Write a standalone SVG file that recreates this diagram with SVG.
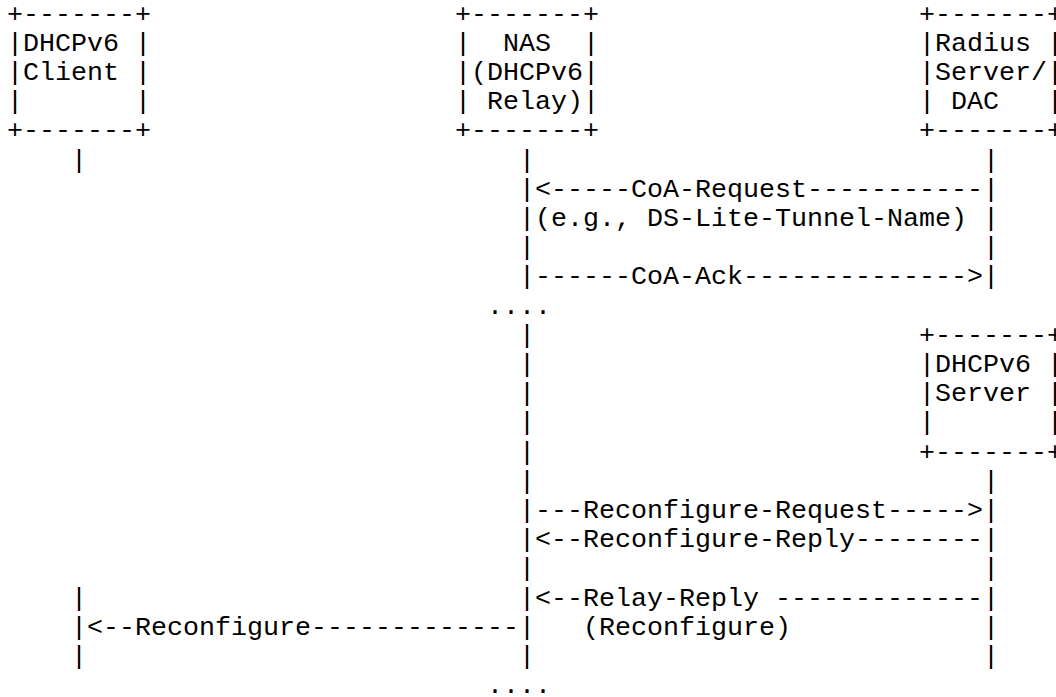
<svg xmlns="http://www.w3.org/2000/svg" width="1056" height="697" viewBox="0 0 1056 697" xml:space="preserve">
<style>
text { font-family: "Liberation Mono", "DejaVu Sans Mono", monospace; font-size: 26.67px; fill: #000; white-space: pre; }
</style>
<rect width="1056" height="697" fill="#fff"/>
<g id="node-dhcpv6-client">
<text x="7" y="21.5">+-------+</text>
<text x="7" y="50.7">|DHCPv6 |</text>
<text x="7" y="79.9">|Client |</text>
<text x="7" y="109.1">|       |</text>
<text x="7" y="138.3">+-------+</text>
</g>
<g id="node-nas">
<text x="455" y="21.5">+-------+</text>
<text x="455" y="50.7">|  NAS  |</text>
<text x="455" y="79.9">|(DHCPv6|</text>
<text x="455" y="109.1">| Relay)|</text>
<text x="455" y="138.3">+-------+</text>
</g>
<g id="node-radius">
<text x="919" y="21.5">+-------+</text>
<text x="919" y="50.7">|Radius |</text>
<text x="919" y="79.9">|Server/|</text>
<text x="919" y="109.1">| DAC   |</text>
<text x="919" y="138.3">+-------+</text>
</g>
<g id="node-dhcpv6-server">
<text x="919" y="342.7">+-------+</text>
<text x="919" y="371.9">|DHCPv6 |</text>
<text x="919" y="401.1">|Server |</text>
<text x="919" y="430.3">|       |</text>
<text x="919" y="459.5">+-------+</text>
</g>
<g id="connectors">
<text x="71" y="167.5">|</text>
<text x="519" y="167.5">|</text>
<text x="983" y="167.5">|</text>
<text x="519" y="196.7">|&lt;-----CoA-Request-----------|</text>
<text x="519" y="225.9">|(e.g., DS-Lite-Tunnel-Name) |</text>
<text x="519" y="255.1">|</text>
<text x="983" y="255.1">|</text>
<text x="519" y="284.3">|------CoA-Ack--------------&gt;|</text>
<text x="487" y="313.5">....</text>
<text x="519" y="342.7">|</text>
<text x="519" y="371.9">|</text>
<text x="519" y="401.1">|</text>
<text x="519" y="430.3">|</text>
<text x="519" y="459.5">|</text>
<text x="519" y="488.7">|</text>
<text x="983" y="488.7">|</text>
<text x="519" y="517.9">|---Reconfigure-Request-----&gt;|</text>
<text x="519" y="547.1">|&lt;--Reconfigure-Reply--------|</text>
<text x="519" y="576.3">|</text>
<text x="983" y="576.3">|</text>
<text x="71" y="605.5">|</text>
<text x="519" y="605.5">|&lt;--Relay-Reply -------------|</text>
<text x="71" y="634.7">|&lt;--Reconfigure-------------|</text>
<text x="583" y="634.7">(Reconfigure)</text>
<text x="983" y="634.7">|</text>
<text x="71" y="663.9">|</text>
<text x="519" y="663.9">|</text>
<text x="983" y="663.9">|</text>
<text x="487" y="693.1">....</text>
</g>
</svg>
